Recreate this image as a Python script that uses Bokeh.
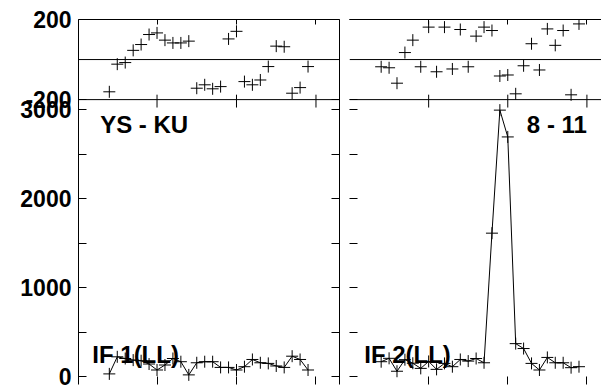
from bokeh.plotting import figure
from bokeh.models import Range1d, LinearAxis, FixedTicker, Span, Label, CustomLabelingPolicy
from bokeh.layouts import row
from bokeh.embed import file_html
from bokeh.resources import INLINE

# ---------------- data ----------------
t_if1 = [4, 5, 6, 7, 8, 9, 10, 11, 12, 13, 14, 15, 16, 17, 18, 19, 20, 21, 22, 23, 24, 25, 26, 27, 28, 29]
amp_if1 = [30, 222, 203, 185, 178, 141, 74, 130, 203, 167, 19, 155, 167,
           167, 103, 103, 74, 111, 192, 155, 148, 119, 103, 229, 192, 74]
phase_if1 = [-161, -23, -15, 46, 75, 125, 133, 97, 83, 83, 92, -143, -126,
             -146, -135, 103, 141, -110, -126, -102, -35, 67, 64, -168, -140, -35]

t_if2 = [4, 5, 6, 7, 8, 9, 10, 11, 12, 13, 14, 15, 16, 17, 18, 19, 20, 21, 22, 23, 24, 25, 26, 27, 28, 29]
amp_if2 = [167, 205, 60, 190, 150, 92, 170, 81, 148, 111, 192, 174, 203,
           155, 1611, 2993, 2692, 370, 315, 148, 74, 215, 155, 155, 100, 111]
phase_if2 = [-36, -41, -118, 35, 97, -36, 162, -61, 162, -47, 150, -36, 117,
             162, 145, -82, -77, -171, -31, 79, -52, 153, 71, 145, -176, 178]

baseline_left = "YS - KU"
baseline_right = "8 - 11"
if_left = "IF 1(LL)"
if_right = "IF 2(LL)"

amp_ticks = [0, 1000, 2000, 3000]
amp_minor = [500, 1500, 2500]
phase_ticks = [-200, 200]
time_ticks = [10, 20, 30]

# ---------------- layout constants ----------------
FONT = "Liberation Sans"
PH_VIS = (-200.0, 200.0)
AMP_VIS = (-89.0, 3111.0)
TOP = 19
LEFT = 78
PANEL_W = 265
PH_H = 81
AMP_H = 288
PX_PER_MIN = 8.07
FIRST_PT_OFFSET = 31.3   # px from panel left edge to first sample

amp_per_px = (AMP_VIS[1] - AMP_VIS[0]) / AMP_H
ph_per_px = (PH_VIS[1] - PH_VIS[0]) / PH_H
amp_range = (AMP_VIS[0], AMP_VIS[1] + PH_H * amp_per_px)
ph_range = (PH_VIS[0] - AMP_H * ph_per_px, PH_VIS[1])


def ph_to_amp(v):
    return round(AMP_VIS[1] + (v - PH_VIS[0]) / ph_per_px * amp_per_px, 4)


y_major = amp_ticks + [ph_to_amp(v) for v in phase_ticks]
y_overrides = {ph_to_amp(v): str(int(v)) for v in phase_ticks}


def hide_labels(ax):
    ax.major_label_policy = CustomLabelingPolicy(code="return []")
    ax.major_label_text_font_size = "1px"
    ax.major_label_standoff = 0
    ax.axis_label = None


def make_panel(t, amp, ph, xr, width, left_border, right_border, show_labels, right_axis):
    p = figure(width=width, height=TOP + PH_H + AMP_H, output_backend="svg",
               toolbar_location=None,
               x_range=Range1d(*xr), y_range=Range1d(*amp_range),
               min_border_left=left_border, min_border_right=right_border,
               min_border_top=TOP, min_border_bottom=0)
    p.extra_y_ranges = {"phase": Range1d(*ph_range)}
    p.grid.visible = False
    p.outline_line_color = None
    p.background_fill_color = "white"
    p.border_fill_color = "white"

    # left axis
    ya = p.yaxis[0]
    ya.ticker = FixedTicker(ticks=y_major, minor_ticks=amp_minor)
    ya.major_tick_in = 8
    ya.major_tick_out = 0
    ya.minor_tick_in = 8
    ya.minor_tick_out = 0
    ya.axis_line_color = "black" if show_labels else None
    ya.major_tick_line_color = "black"
    ya.minor_tick_line_color = "black"
    if show_labels:
        ya.major_label_overrides = y_overrides
        ya.major_label_text_font = FONT
        ya.major_label_text_font_style = "bold"
        ya.major_label_text_font_size = "23px"
        ya.major_label_text_color = "black"
        ya.major_label_standoff = 7
    else:
        hide_labels(ya)

    # bottom axis: ticks only (the border itself lies just off the picture)
    xa = p.xaxis[0]
    xa.ticker = FixedTicker(ticks=time_ticks)
    xa.major_tick_in = 8
    xa.major_tick_out = 0
    xa.axis_line_color = None
    xa.major_tick_line_color = "black"
    hide_labels(xa)

    # top axis
    top = LinearAxis(ticker=FixedTicker(ticks=time_ticks), major_tick_in=5, major_tick_out=0,
                     axis_line_color="black", major_tick_line_color="black")
    hide_labels(top)
    p.add_layout(top, "above")

    if right_axis:
        ra = LinearAxis(ticker=FixedTicker(ticks=y_major, minor_ticks=amp_minor),
                        major_tick_in=8, major_tick_out=0, minor_tick_in=8, minor_tick_out=0,
                        axis_line_color="black", major_tick_line_color="black",
                        minor_tick_line_color="black")
        hide_labels(ra)
        p.add_layout(ra, "right")

    # separators: phase zero line and panel boundary
    p.add_layout(Span(location=0, dimension="width", y_range_name="phase",
                      line_color="black", line_width=1))
    p.add_layout(Span(location=PH_VIS[0], dimension="width", y_range_name="phase",
                      line_color="black", line_width=1))

    # tick marks on the shared boundary between phase and amplitude panels
    p.segment(x0=time_ticks, x1=time_ticks,
              y0=[PH_VIS[0]] * len(time_ticks),
              y1=[PH_VIS[0] + 5 * ph_per_px] * len(time_ticks),
              y_range_name="phase", line_color="black", line_width=1)
    p.segment(x0=time_ticks, x1=time_ticks,
              y0=[AMP_VIS[1]] * len(time_ticks),
              y1=[AMP_VIS[1] - 8 * amp_per_px] * len(time_ticks),
              line_color="black", line_width=1)

    # data
    p.line(t, amp, line_color="black", line_width=1)
    p.scatter(t, amp, marker="cross", size=12, line_color="black", line_width=1)
    p.scatter(t, ph, marker="cross", size=12, line_color="black", line_width=1,
              y_range_name="phase")
    return p


x0_left = t_if1[0] - FIRST_PT_OFFSET / PX_PER_MIN
x_left = (x0_left, x0_left + PANEL_W / PX_PER_MIN)
x0_right = t_if2[0] - (FIRST_PT_OFFSET + 1) / PX_PER_MIN
right_w = 601 - (LEFT + PANEL_W + 1)
x_right = (x0_right, x0_right + right_w / PX_PER_MIN)

pl = make_panel(t_if1, amp_if1, phase_if1, x_left, LEFT + PANEL_W + 1, LEFT, 1, True, True)
pr = make_panel(t_if2, amp_if2, phase_if2, x_right, right_w, 0, 0, False, False)

txt = dict(text_font=FONT, text_font_style="bold", text_font_size="24px",
           text_color="black", text_baseline="middle")
top_text_y = AMP_VIS[1] - 25 * amp_per_px
if_text_y = AMP_VIS[1] - 258 * amp_per_px
pl.add_layout(Label(x=x_left[0] + 22 / PX_PER_MIN, y=top_text_y, text=baseline_left,
                    text_align="left", **txt))
pr.add_layout(Label(x=time_ticks[-1], y=top_text_y, text=baseline_right,
                    text_align="right", **txt))
pl.add_layout(Label(x=x_left[0] + 14 / PX_PER_MIN, y=if_text_y, text=if_left,
                    text_align="left", **txt))
pr.add_layout(Label(x=x_right[0] + 15 / PX_PER_MIN, y=if_text_y, text=if_right,
                    text_align="left", **txt))

layout = row(pl, pr, spacing=0)
open("out.html", "w").write(file_html(layout, INLINE))
